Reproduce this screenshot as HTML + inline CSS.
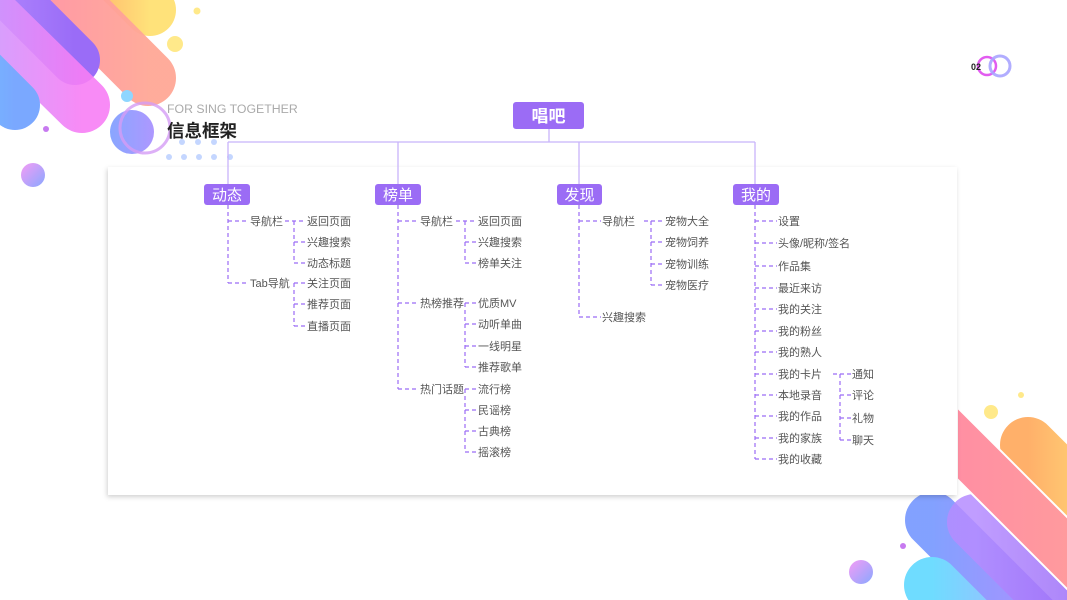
<!DOCTYPE html>
<html><head><meta charset="utf-8"><style>
html,body{margin:0;padding:0;background:#fff;width:1067px;height:600px;overflow:hidden}
svg{display:block;overflow:hidden}
text{font-family:"Liberation Sans","Noto Sans CJK SC",sans-serif}
.t{font-size:11px;fill:#555}
.h{font-size:15px;fill:#fff}
.d{stroke:#9b6cf5;stroke-width:1.2;stroke-dasharray:4 3;fill:none}
</style></head><body>
<svg width="1067" height="600" viewBox="0 0 1067 600">
<defs>
<linearGradient id="gO" x1="0" y1="0" x2="1" y2="0"><stop offset="0" stop-color="#ffb06a"/><stop offset="1" stop-color="#ffe27a"/></linearGradient>
<linearGradient id="gP" x1="0" y1="0" x2="1" y2="0"><stop offset="0" stop-color="#ff8fa3"/><stop offset="1" stop-color="#ffa796"/></linearGradient>
<linearGradient id="gV" x1="0" y1="0" x2="1" y2="0"><stop offset="0" stop-color="#b58cff"/><stop offset="1" stop-color="#9a6cf7"/></linearGradient>
<linearGradient id="gM" x1="0" y1="0" x2="1" y2="0"><stop offset="0" stop-color="#c79bff"/><stop offset="1" stop-color="#f77ef5"/></linearGradient>
<linearGradient id="gB" x1="0" y1="0" x2="1" y2="0"><stop offset="0" stop-color="#6fc8ff"/><stop offset="1" stop-color="#7aa8ff"/></linearGradient>
<linearGradient id="gC" x1="0" y1="0" x2="1" y2="1"><stop offset="0" stop-color="#f49cf5"/><stop offset="1" stop-color="#8aa8ff"/></linearGradient>
<linearGradient id="gBB" x1="0" y1="0" x2="1" y2="0"><stop offset="0" stop-color="#7c9cff"/><stop offset="1" stop-color="#a48cff"/></linearGradient>
<linearGradient id="gCy" x1="0" y1="0" x2="1" y2="0"><stop offset="0" stop-color="#6fdcff"/><stop offset="1" stop-color="#8ec7ff"/></linearGradient>
<filter id="sh" x="-5%" y="-5%" width="110%" height="115%"><feDropShadow dx="-1" dy="2" stdDeviation="2.5" flood-color="#000" flood-opacity="0.18"/></filter>
</defs>

<!-- top-left decoration -->
<g stroke-linecap="round" fill="none">
<line x1="80" y1="-60" x2="150" y2="10" stroke="url(#gO)" stroke-width="52"/>
<line x1="20" y1="-50" x2="148" y2="78" stroke="url(#gP)" stroke-width="56" opacity="0.95"/>
<line x1="-30" y1="-45" x2="75" y2="60" stroke="url(#gV)" stroke-width="50"/>
<line x1="-30" y1="-5" x2="82" y2="105" stroke="url(#gM)" stroke-width="56" opacity="0.9"/>
<line x1="-60" y1="30" x2="15" y2="105" stroke="url(#gB)" stroke-width="50"/>
</g>
<circle cx="175" cy="44" r="8" fill="#ffe98a"/>
<circle cx="197" cy="11" r="3.5" fill="#ffe98a"/>
<circle cx="127" cy="96" r="6" fill="#8fd6ff"/>
<circle cx="46" cy="129" r="3" fill="#c77af0"/>
<circle cx="33" cy="175" r="12" fill="url(#gC)"/>
<circle cx="132" cy="132" r="22" fill="url(#gBB)" opacity="0.9"/>
<circle cx="145" cy="128" r="25" fill="none" stroke="#d49cf5" stroke-width="3" opacity="0.8"/>

<!-- bottom-right decoration (behind card) -->
<g stroke-linecap="round" fill="none">
<line x1="1028" y1="445" x2="1120" y2="537" stroke="url(#gO)" stroke-width="56"/>
<line x1="933" y1="520" x2="1040" y2="627" stroke="url(#gBB)" stroke-width="56" opacity="0.95"/>
<line x1="975" y1="522" x2="1085" y2="632" stroke="url(#gV)" stroke-width="56" opacity="0.85"/>
<line x1="932" y1="585" x2="990" y2="643" stroke="url(#gCy)" stroke-width="56"/>
</g>
<polygon points="957,407 1200,650 1200,722 957,479" fill="url(#gP)" stroke="#fff" stroke-width="2"/>
<circle cx="991" cy="412" r="7" fill="#ffe98a"/>
<circle cx="1021" cy="395" r="3" fill="#ffe98a"/>
<circle cx="903" cy="546" r="3" fill="#c77af0"/>
<circle cx="861" cy="572" r="12" fill="url(#gC)"/>

<!-- card -->
<rect x="108" y="167" width="849" height="328" fill="#fff" filter="url(#sh)"/>

<g fill="#c4d6ff">
<circle cx="182" cy="142" r="3"/><circle cx="198" cy="142" r="3"/><circle cx="214" cy="142" r="3"/>
<circle cx="169" cy="157" r="3"/><circle cx="184" cy="157" r="3"/><circle cx="199" cy="157" r="3"/><circle cx="214" cy="157" r="3"/><circle cx="230" cy="157" r="3"/>
</g>
<text x="167" y="113" font-size="12.3" fill="#aaa">FOR SING TOGETHER</text>
<text x="167" y="137" font-size="17.5" font-weight="bold" fill="#222">信息框架</text>

<!-- page num -->
<circle cx="987" cy="66" r="9" fill="none" stroke="#e25cf0" stroke-width="2.5"/>
<circle cx="1000" cy="66" r="10" fill="none" stroke="#a9a4ff" stroke-width="3" opacity="0.9"/>
<text x="971" y="70" font-size="9" font-weight="bold" fill="#222">02</text>

<!-- top structure -->
<g stroke="#c8b4fb" stroke-width="1.3" fill="none">
<line x1="549" y1="129" x2="549" y2="142"/>
<line x1="228" y1="142" x2="755" y2="142"/>
<line x1="228" y1="142" x2="228" y2="184"/>
<line x1="398" y1="142" x2="398" y2="184"/>
<line x1="579" y1="142" x2="579" y2="184"/>
<line x1="755" y1="142" x2="755" y2="184"/>
</g>
<rect x="513" y="102" width="71" height="27" rx="3" fill="#9b6cf5"/>
<text x="548.5" y="122" text-anchor="middle" font-size="17" font-weight="bold" fill="#fff">唱吧</text>
<g fill="#9b6cf5">
<rect x="204" y="184" width="46" height="21" rx="3"/>
<rect x="375" y="184" width="46" height="21" rx="3"/>
<rect x="557" y="184" width="45" height="21" rx="3"/>
<rect x="733" y="184" width="46" height="21" rx="3"/>
</g>
<text class="h" x="227" y="200" text-anchor="middle">动态</text>
<text class="h" x="398" y="200" text-anchor="middle">榜单</text>
<text class="h" x="579.5" y="200" text-anchor="middle">发现</text>
<text class="h" x="756" y="200" text-anchor="middle">我的</text>

<!-- 动态 -->
<path class="d" d="M228 205V283 M228 221H249 M228 283H249 M285 221H306 M294 221V263 M294 242H306 M294 263H306 M294 283H306 M294 283V326 M294 304H306 M294 326H306"/>
<g class="t">
<text x="250" y="225">导航栏</text><text x="250" y="287">Tab导航</text>
<text x="307" y="225">返回页面</text><text x="307" y="246">兴趣搜索</text><text x="307" y="267">动态标题</text>
<text x="307" y="287">关注页面</text><text x="307" y="308">推荐页面</text><text x="307" y="330">直播页面</text>
</g>

<!-- 榜单 -->
<path class="d" d="M398 205V389 M398 221H419 M398 303H419 M398 389H419 M456 221H477 M465 221V263 M465 242H477 M465 263H477 M465 303H477 M465 303V367 M465 324H477 M465 346H477 M465 367H477 M465 389H477 M465 389V452 M465 410H477 M465 431H477 M465 452H477"/>
<g class="t">
<text x="420" y="225">导航栏</text><text x="420" y="307">热榜推荐</text><text x="420" y="393">热门话题</text>
<text x="478" y="225">返回页面</text><text x="478" y="246">兴趣搜索</text><text x="478" y="267">榜单关注</text>
<text x="478" y="307">优质MV</text><text x="478" y="328">动听单曲</text><text x="478" y="350">一线明星</text><text x="478" y="371">推荐歌单</text>
<text x="478" y="393">流行榜</text><text x="478" y="414">民谣榜</text><text x="478" y="435">古典榜</text><text x="478" y="456">摇滚榜</text>
</g>

<!-- 发现 -->
<path class="d" d="M579 205V317 M579 221H601 M579 317H601 M644 221H663 M651 221V285 M651 242H663 M651 264H663 M651 285H663"/>
<g class="t">
<text x="602" y="225">导航栏</text><text x="602" y="321">兴趣搜索</text>
<text x="665" y="225">宠物大全</text><text x="665" y="246">宠物饲养</text><text x="665" y="268">宠物训练</text><text x="665" y="289">宠物医疗</text>
</g>

<!-- 我的 -->
<path class="d" d="M755 205V459 M755 221H777 M755 243H777 M755 266H777 M755 288H777 M755 309H777 M755 331H777 M755 352H777 M755 374H777 M755 395H777 M755 416H777 M755 438H777 M755 459H777 M833 374H851 M840 374V440 M840 395H851 M840 418H851 M840 440H851"/>
<g class="t">
<text x="778" y="225">设置</text><text x="778" y="247">头像/昵称/签名</text><text x="778" y="270">作品集</text>
<text x="778" y="292">最近来访</text><text x="778" y="313">我的关注</text><text x="778" y="335">我的粉丝</text>
<text x="778" y="356">我的熟人</text><text x="778" y="378">我的卡片</text><text x="778" y="399">本地录音</text>
<text x="778" y="420">我的作品</text><text x="778" y="442">我的家族</text><text x="778" y="463">我的收藏</text>
<text x="852" y="378">通知</text><text x="852" y="399">评论</text><text x="852" y="422">礼物</text><text x="852" y="444">聊天</text>
</g>
</svg>
</body></html>
